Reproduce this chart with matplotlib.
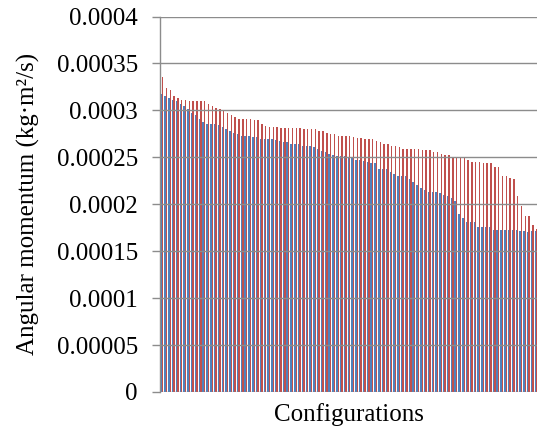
import numpy as np
from matplotlib import pyplot as plt

plt.rcParams['font.family'] = ['Liberation Serif', 'DejaVu Serif']

# angular momentum per configuration, in units of 1e-4 kg·m²/s
blue = [3.171, 3.154, 3.132, 3.115, 3.097, 3.065, 3.048, 3.019, 2.977, 2.949,
        2.913, 2.878, 2.860, 2.860, 2.850, 2.843, 2.825, 2.800, 2.779, 2.761,
        2.744, 2.726, 2.726, 2.726, 2.712, 2.712, 2.694, 2.694, 2.694, 2.694,
        2.684, 2.673, 2.666, 2.659, 2.638, 2.638, 2.638, 2.624, 2.624, 2.624,
        2.606, 2.588, 2.571, 2.553, 2.535, 2.525, 2.518, 2.518, 2.511,
        2.507, 2.489, 2.472, 2.472, 2.461, 2.454, 2.436, 2.436, 2.373, 2.373,
        2.373, 2.348, 2.320, 2.302, 2.302, 2.302, 2.267, 2.242, 2.200, 2.178,
        2.147, 2.129, 2.129, 2.129, 2.115, 2.101, 2.083, 2.065, 2.030, 1.896,
        1.853, 1.811, 1.811, 1.811, 1.758, 1.758, 1.758, 1.758, 1.726, 1.726,
        1.726, 1.726, 1.726, 1.726, 1.726, 1.719, 1.712, 1.705, 1.712, 1.712]
red = [3.355, 3.239, 3.221, 3.150, 3.132, 3.115, 3.115, 3.101, 3.101, 3.101,
       3.101, 3.101, 3.065, 3.048, 3.030, 3.019, 3.002, 2.977, 2.949, 2.931,
       2.913, 2.913, 2.913, 2.913, 2.896, 2.896, 2.850, 2.832, 2.825, 2.825,
       2.825, 2.814, 2.814, 2.814, 2.814, 2.814, 2.807, 2.797, 2.797, 2.797,
       2.797, 2.779, 2.779, 2.761, 2.744, 2.744, 2.730, 2.730, 2.730,
       2.726, 2.712, 2.708, 2.708, 2.691, 2.691, 2.691, 2.677, 2.659, 2.641,
       2.641, 2.624, 2.624, 2.606, 2.592, 2.592, 2.592, 2.592, 2.592, 2.574,
       2.574, 2.574, 2.556, 2.556, 2.539, 2.521, 2.521, 2.503, 2.503, 2.489,
       2.489, 2.472, 2.454, 2.454, 2.454, 2.436, 2.436, 2.436, 2.401, 2.401,
       2.302, 2.302, 2.284, 2.267, 2.083, 1.977, 1.878, 1.878, 1.775, 1.740]

y_ticks = [0, 0.00005, 0.0001, 0.00015, 0.0002, 0.00025, 0.0003, 0.00035, 0.0004]
y_labels = ['0', '0.00005', '0.0001', '0.00015', '0.0002', '0.00025',
            '0.0003', '0.00035', '0.0004']

blue_vals = np.array(blue) * 1e-4
red_vals = np.array(red) * 1e-4
x = np.arange(len(blue))

fig = plt.figure(figsize=(5.37, 4.30), dpi=100)
# plot area runs slightly past the right edge, as in the reference crop
ax = fig.add_axes([160 / 537, 38 / 430, 378 / 537, 375.5 / 430])

bar_width = 0.38
ax.bar(x - 0.19, blue_vals, width=bar_width, color='#4F81BD', linewidth=0,
       antialiased=False)
ax.bar(x + 0.19, red_vals, width=bar_width, color='#C0504D', linewidth=0,
       antialiased=False)

ax.set_xlim(-0.5, len(x) - 0.5)
ax.set_ylim(0, 0.0004)
ax.set_yticks(y_ticks, y_labels)
ax.set_xticks([])

ax.grid(axis='y', color='#8c8c8c', linewidth=1.0)
ax.set_axisbelow(False)
for side in ['top', 'right', 'bottom']:
    ax.spines[side].set_visible(False)
ax.spines['left'].set_color('#8c8c8c')
ax.spines['left'].set_linewidth(1.0)
ax.tick_params(axis='y', length=6, width=1.0, color='#8c8c8c',
               pad=10, labelsize=18)

ax.set_ylabel('Angular momentum (kg·m²/s)', fontsize=18, labelpad=12)
ax.set_xlabel('Configurations', fontsize=18, labelpad=8)

fig.savefig('out.png', dpi=100)
